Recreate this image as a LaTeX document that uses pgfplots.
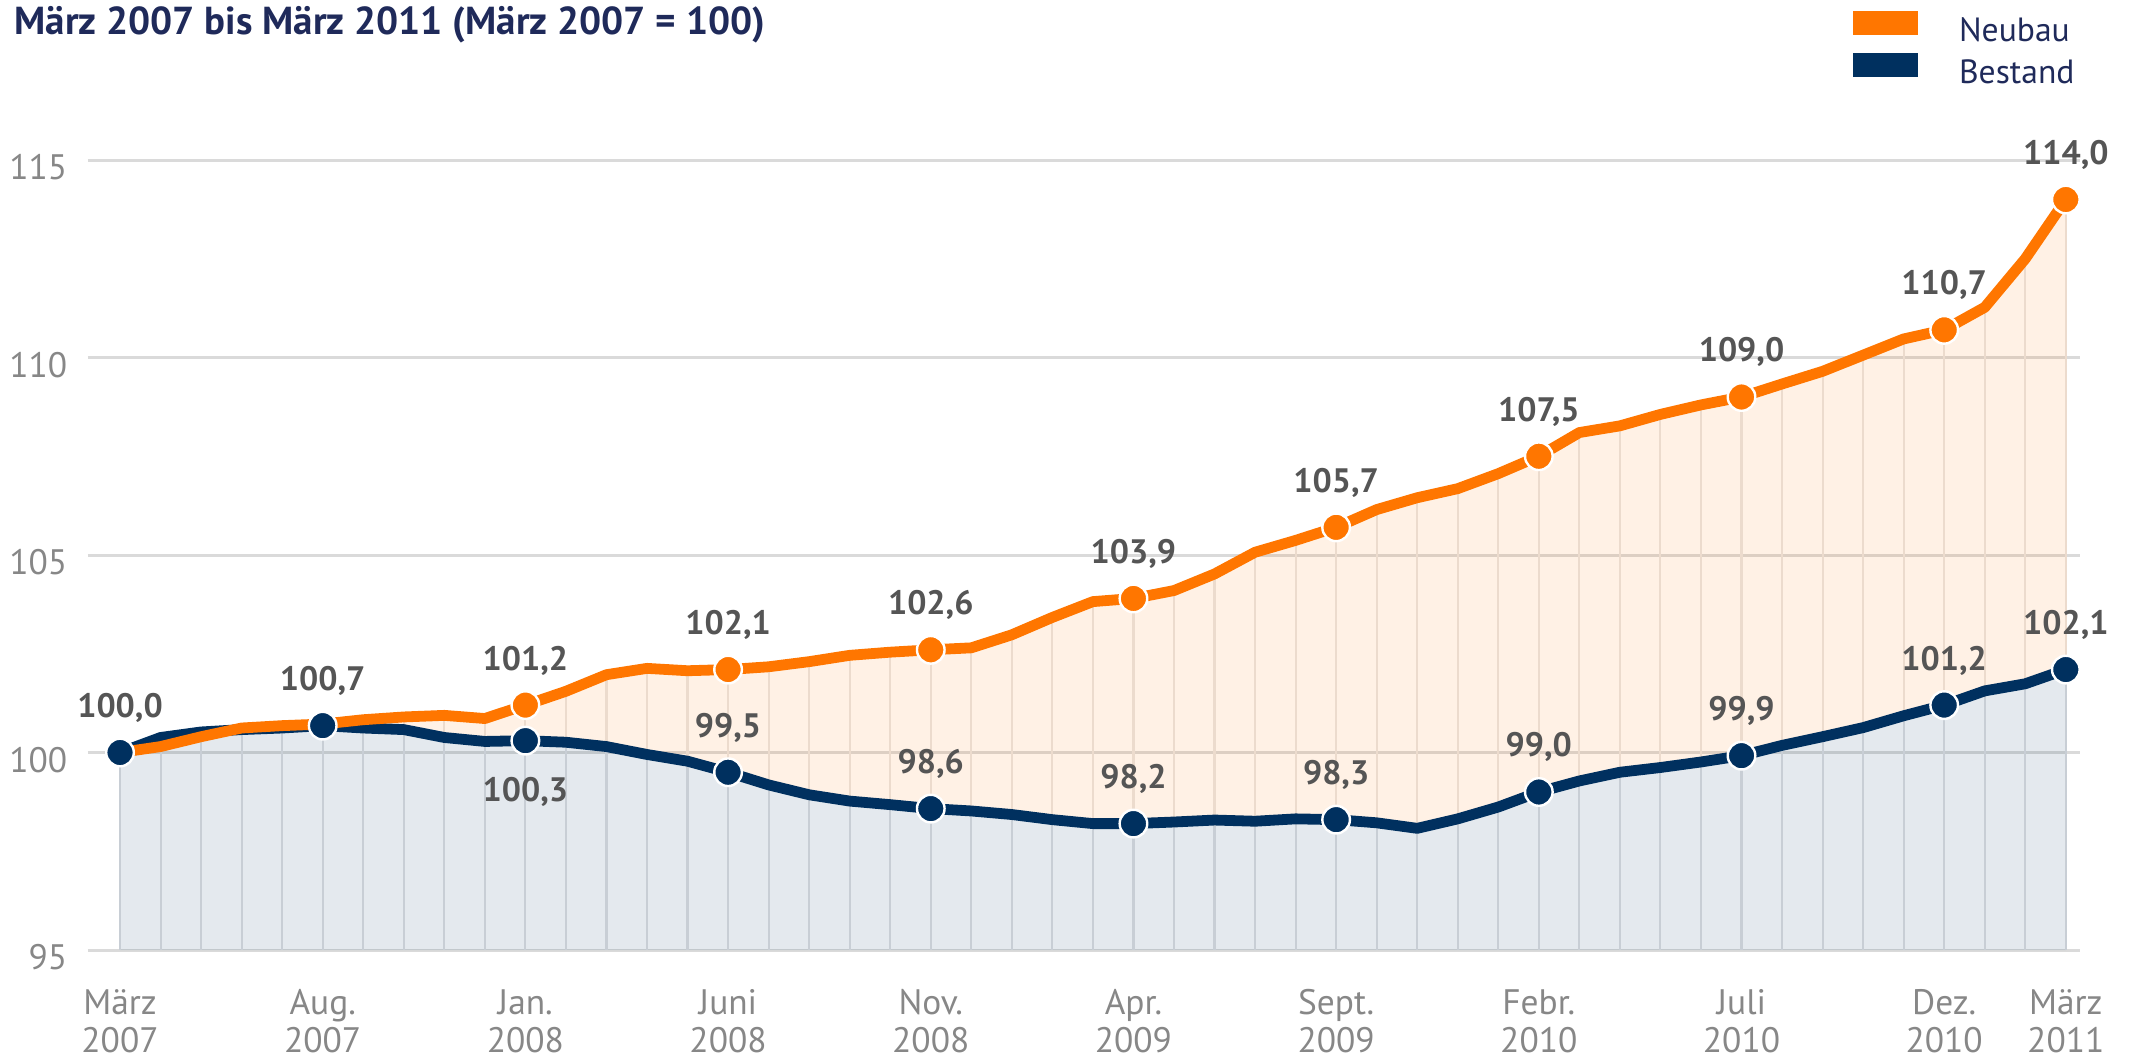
\documentclass[border=0pt]{standalone}
\usepackage{fontspec}
\setmainfont{PT Sans}
\usepackage{pgfplots}
\pgfplotsset{compat=1.18}
\usepgfplotslibrary{fillbetween}
\usepackage{pgfplotstable}
\definecolor{norange}{RGB}{255,118,0}
\definecolor{nnavy}{RGB}{0,48,95}
\definecolor{combtan}{RGB}{236,219,205}
\definecolor{combgray}{RGB}{200,206,213}
\definecolor{gridgray}{RGB}{218,218,218}
\definecolor{tickgray}{RGB}{135,135,135}
\definecolor{labgray}{RGB}{85,85,85}
\definecolor{titlenavy}{RGB}{31,42,90}

\pgfplotsset{
  lababove/.style={point meta=explicit symbolic, nodes near coords,
    every node near coord/.append style={anchor=base, yshift=11.7bp, inner sep=0pt, font=\fontsize{11.3bp}{13bp}\selectfont\bfseries, text=labgray}},
  labbelow/.style={point meta=explicit symbolic, nodes near coords,
    every node near coord/.append style={anchor=base, yshift=-20.3bp, inner sep=0pt, font=\fontsize{11.3bp}{13bp}\selectfont\bfseries, text=labgray}},
  combstyle/.style={draw=none, mark=none, forget plot,
    error bars/.cd, y dir=minus, y explicit, error mark=none,
    error bar style={line width=0.7bp, draw=#1}},
}

\pgfplotstableread{
m v
0 100.0
1 100.15
2 100.4
3 100.62
4 100.68
5 100.72
6 100.83
7 100.9
8 100.94
9 100.86
10 101.2
11 101.55
12 101.97
13 102.13
14 102.07
15 102.1
16 102.17
17 102.3
18 102.46
19 102.54
20 102.6
21 102.65
22 102.98
23 103.42
24 103.82
25 103.9
26 104.1
27 104.52
28 105.07
29 105.37
30 105.7
31 106.15
32 106.45
33 106.68
34 107.06
35 107.5
36 108.1
37 108.27
38 108.56
39 108.8
40 109.0
41 109.33
42 109.65
43 110.06
44 110.47
45 110.7
46 111.27
47 112.5
48 114.0
}\neubau

\pgfplotstableread{
m v
0 100.0
1 100.38
2 100.52
3 100.58
4 100.62
5 100.68
6 100.62
7 100.58
8 100.38
9 100.28
10 100.3
11 100.26
12 100.15
13 99.95
14 99.78
15 99.5
16 99.18
17 98.93
18 98.77
19 98.68
20 98.58
21 98.52
22 98.43
23 98.3
24 98.2
25 98.2
26 98.24
27 98.29
28 98.26
29 98.32
30 98.3
31 98.22
32 98.08
33 98.32
34 98.62
35 99.0
36 99.28
37 99.5
38 99.62
39 99.76
40 99.92
41 100.18
42 100.4
43 100.63
44 100.93
45 101.2
46 101.56
47 101.74
48 102.1
}\bestand

\pgfplotstableread{
m v lab
10 101.2 101,2
15 102.1 102,1
20 102.6 102,6
25 103.9 103,9
30 105.7 105,7
35 107.5 107,5
40 109.0 109,0
45 110.7 110,7
48 114.0 114,0
}\nlab

\pgfplotstableread{
m v lab
0 100.0 100,0
5 100.68 100,7
15 99.5 99,5
20 98.58 98,6
25 98.2 98,2
30 98.3 98,3
35 99.0 99,0
40 99.92 99,9
45 101.2 101,2
48 102.1 102,1
}\blab

\pgfplotstableread{
m v lab
10 100.3 100,3
}\blabbelow

\begin{document}
\begin{tikzpicture}
\node[anchor=base west, inner sep=0pt, font=\fontsize{13bp}{15bp}\selectfont\bfseries, text=titlenavy] at (4.67bp,342.3bp) {März 2007 bis März 2011 (März 2007 = 100)};
\begin{axis}[
  at={(29.33bp,37bp)}, anchor=south west,
  scale only axis, width=664bp, height=263.33bp,
  xmin=-0.79, xmax=48.35, ymin=0, ymax=20,
  clip=false,
  axis line style={draw=none},
  tick style={draw=none},
  ymajorgrids, xmajorgrids=false,
  major grid style={line width=1bp, color=gridgray},
  ytick={0,5,10,15,20}, yticklabels={95,100,105,110,115},
  xtick={0,5,10,15,20,25,30,35,40,45,48},
  xticklabels={{März\\2007},{Aug.\\2007},{Jan.\\2008},{Juni\\2008},{Nov.\\2008},{Apr.\\2009},{Sept.\\2009},{Febr.\\2010},{Juli\\2010},{Dez.\\2010},{März\\2011}},
  yticklabel style={font=\fontsize{11.8bp}{13bp}\selectfont, text=tickgray, anchor=east, inner sep=0pt, xshift=-6.7bp, yshift=-2.5bp},
  xticklabel style={font=\fontsize{11.8bp}{12.7bp}\selectfont, text=tickgray, align=center, anchor=north, inner sep=0pt, yshift=-13bp},
  legend style={at={(0.886,1.1886)}, anchor=north west, draw=none, fill=none, inner sep=0pt, outer sep=0pt,
    font=\fontsize{11.2bp}{12bp}\selectfont, text=titlenavy, row sep=2.3bp,
    nodes={inner sep=0pt},
    /tikz/every odd column/.append style={column sep=13.7bp}},
  legend cell align=left,
  legend image code/.code={\fill[#1] (0bp,-1bp) rectangle (21.7bp,7bp);},
]
\addlegendimage{fill=norange,draw=none}
\addlegendentry{Neubau}
\addlegendimage{fill=nnavy,draw=none}
\addlegendentry{Bestand}

\addplot[draw=none, forget plot, name path=N] table[x=m, y expr=\thisrow{v}-95]{\neubau};
\addplot[draw=none, forget plot, name path=B] table[x=m, y expr=\thisrow{v}-95]{\bestand};
\addplot[draw=none, forget plot, name path=Z] table[x=m, y expr=0]{\bestand};
\addplot[fill=norange, fill opacity=0.1, draw=none, forget plot] fill between[of=N and B];
\addplot[fill=nnavy, fill opacity=0.106, draw=none, forget plot] fill between[of=B and Z];
\addplot[combstyle=combtan] table[x=m, y expr=\thisrow{v}-95, y error expr=\thisrow{v}-95]{\neubau};
\addplot[combstyle=combgray] table[x=m, y expr=\thisrow{v}-95, y error expr=\thisrow{v}-95]{\bestand};

\addplot[draw=nnavy, line width=3.6bp, line join=round, line cap=round, forget plot] table[x=m, y expr=\thisrow{v}-95]{\bestand};
\addplot[draw=norange, line width=3.6bp, line join=round, line cap=round, forget plot] table[x=m, y expr=\thisrow{v}-95]{\neubau};

\addplot[only marks, mark=*, mark size=4.6bp, mark options={fill=norange, draw=white, line width=0.8bp}, forget plot, lababove]
  table[x=m, y expr=\thisrow{v}-95, meta=lab]{\nlab};
\addplot[only marks, mark=*, mark size=4.6bp, mark options={fill=nnavy, draw=white, line width=0.8bp}, forget plot, lababove]
  table[x=m, y expr=\thisrow{v}-95, meta=lab]{\blab};
\addplot[only marks, mark=*, mark size=4.6bp, mark options={fill=nnavy, draw=white, line width=0.8bp}, forget plot, labbelow]
  table[x=m, y expr=\thisrow{v}-95, meta=lab]{\blabbelow};
\end{axis}
\pgfresetboundingbox
\path[use as bounding box] (0,0) rectangle (710.67bp,353.67bp);
\end{tikzpicture}
\end{document}
